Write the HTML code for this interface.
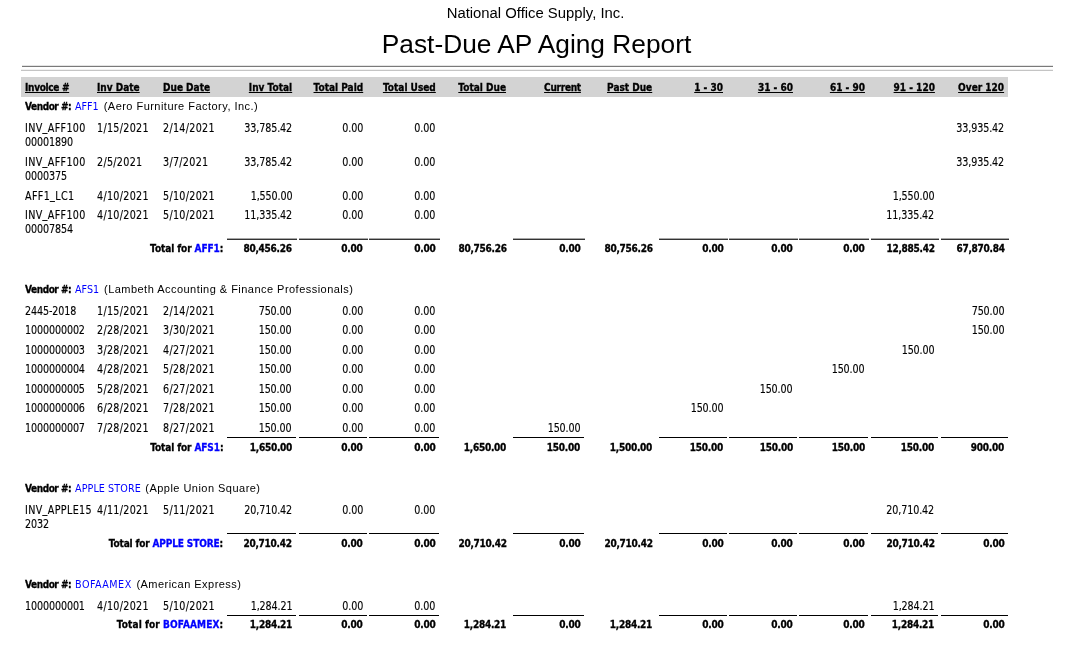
<!DOCTYPE html>
<html><head><meta charset="utf-8"><title>Past-Due AP Aging Report</title>
<style>
html,body{margin:0;padding:0;background:#fff;}
body{width:1071px;height:655px;position:relative;overflow:hidden;color:#000;}
#wrap{position:absolute;left:0;top:0;width:1071px;height:655px;will-change:transform;}
.t{position:absolute;white-space:nowrap;line-height:14px;}
.r{position:absolute;}
.R{text-align:right;}
.d{font-family:'DejaVu Sans',sans-serif;font-size:10.67px;transform:scale(0.9,1.12);-webkit-text-stroke-width:0.13px;}
.d.L{transform-origin:0 2px;}
.d.R{transform-origin:100% 2px;}
.b{font-family:'DejaVu Sans',sans-serif;font-weight:bold;font-size:10px;transform:scaleX(0.9);-webkit-text-stroke-width:0.32px;}
.b.L{transform-origin:0 0;}
.b.R{transform-origin:100% 0;}
.c{font-family:'DejaVu Sans',sans-serif;font-size:10.67px;color:#0000ff;transform:scaleX(0.9);transform-origin:0 0;}
.v{font-family:'Liberation Sans',sans-serif;font-size:11px;letter-spacing:0.47px;}
.bl{color:#0000ff;}
.bn{letter-spacing:-0.28px;}
.vb{letter-spacing:-0.5px;}
.tx{letter-spacing:0.39px;}
.dt{letter-spacing:0.33px;}
.nm{letter-spacing:-0.13px;}
.us{position:relative;top:-1px;}
.co{position:absolute;left:0;width:1071px;text-align:center;font-family:'Liberation Sans',sans-serif;white-space:nowrap;}
</style></head><body><div id="wrap">
<div class="co" style="top:4px;font-size:14.85px;line-height:18px;">National Office Supply, Inc.</div>
<div class="co" style="top:29.3px;font-size:26.3px;line-height:30px;left:1px;">Past-Due AP Aging Report</div>
<div class="r" style="left:22px;top:65px;width:1031px;height:1px;background:#e4e4e4"></div>
<div class="r" style="left:22px;top:66px;width:1031px;height:1px;background:#7a7a7a"></div>
<div class="r" style="left:21px;top:69px;width:1032px;height:1px;background:#f2f2f2"></div>
<div class="r" style="left:21px;top:70px;width:1032px;height:1px;background:#c4c4c4"></div>
<div class="r" style="left:21px;top:77px;width:987px;height:20px;background:#d3d3d3"></div>
<div class="t b L" style="top:81px;left:24.50px;text-decoration:underline;letter-spacing:-0.35px;">Invoice #</div>
<div class="t b L" style="top:81px;left:97.00px;text-decoration:underline;">Inv Date</div>
<div class="t b L" style="top:81px;left:162.60px;text-decoration:underline;">Due Date</div>
<div class="t b R" style="top:81px;right:779.00px;text-decoration:underline;">Inv Total</div>
<div class="t b R" style="top:81px;right:708.00px;text-decoration:underline;">Total Paid</div>
<div class="t b R" style="top:81px;right:635.40px;text-decoration:underline;">Total Used</div>
<div class="t b R" style="top:81px;right:564.70px;text-decoration:underline;">Total Due</div>
<div class="t b R" style="top:81px;right:490.60px;text-decoration:underline;letter-spacing:-0.3px;">Current</div>
<div class="t b R" style="top:81px;right:418.70px;text-decoration:underline;">Past Due</div>
<div class="t b R" style="top:81px;right:347.70px;text-decoration:underline;">1 - 30</div>
<div class="t b R" style="top:81px;right:278.00px;text-decoration:underline;">31 - 60</div>
<div class="t b R" style="top:81px;right:206.40px;text-decoration:underline;">61 - 90</div>
<div class="t b R" style="top:81px;right:136.60px;text-decoration:underline;">91 - 120</div>
<div class="t b R" style="top:81px;right:66.70px;text-decoration:underline;">Over 120</div>
<div class="t b L" style="top:100px;left:24.60px;"><span class="vb">Vendor #:</span></div>
<div class="t c L" style="top:100px;left:75.30px;letter-spacing:0px;">AFF1</div>
<div class="t v L" style="top:99px;left:103.70px;">(Aero Furniture Factory, Inc.)</div>
<div class="t d L" style="top:121px;left:24.50px;"><span class="tx">INV<span class="us">_</span>AFF100</span></div>
<div class="t d L" style="top:121px;left:97.00px;"><span class="dt">1/15/2021</span></div>
<div class="t d L" style="top:121px;left:162.60px;"><span class="dt">2/14/2021</span></div>
<div class="t d R" style="top:121px;right:779.00px;"><span class="nm">33,785.42</span></div>
<div class="t d R" style="top:121px;right:708.00px;"><span class="nm">0.00</span></div>
<div class="t d R" style="top:121px;right:635.40px;"><span class="nm">0.00</span></div>
<div class="t d R" style="top:121px;right:66.70px;"><span class="nm">33,935.42</span></div>
<div class="t d L" style="top:135px;left:24.50px;"><span class="nm">00001890</span></div>
<div class="t d L" style="top:155px;left:24.50px;"><span class="tx">INV<span class="us">_</span>AFF100</span></div>
<div class="t d L" style="top:155px;left:97.00px;"><span class="dt">2/5/2021</span></div>
<div class="t d L" style="top:155px;left:162.60px;"><span class="dt">3/7/2021</span></div>
<div class="t d R" style="top:155px;right:779.00px;"><span class="nm">33,785.42</span></div>
<div class="t d R" style="top:155px;right:708.00px;"><span class="nm">0.00</span></div>
<div class="t d R" style="top:155px;right:635.40px;"><span class="nm">0.00</span></div>
<div class="t d R" style="top:155px;right:66.70px;"><span class="nm">33,935.42</span></div>
<div class="t d L" style="top:169px;left:24.50px;"><span class="nm">0000375</span></div>
<div class="t d L" style="top:189px;left:24.50px;"><span class="tx">AFF1<span class="us">_</span>LC1</span></div>
<div class="t d L" style="top:189px;left:97.00px;"><span class="dt">4/10/2021</span></div>
<div class="t d L" style="top:189px;left:162.60px;"><span class="dt">5/10/2021</span></div>
<div class="t d R" style="top:189px;right:779.00px;"><span class="nm">1,550.00</span></div>
<div class="t d R" style="top:189px;right:708.00px;"><span class="nm">0.00</span></div>
<div class="t d R" style="top:189px;right:635.40px;"><span class="nm">0.00</span></div>
<div class="t d R" style="top:189px;right:136.60px;"><span class="nm">1,550.00</span></div>
<div class="t d L" style="top:208px;left:24.50px;"><span class="tx">INV<span class="us">_</span>AFF100</span></div>
<div class="t d L" style="top:208px;left:97.00px;"><span class="dt">4/10/2021</span></div>
<div class="t d L" style="top:208px;left:162.60px;"><span class="dt">5/10/2021</span></div>
<div class="t d R" style="top:208px;right:779.00px;"><span class="nm">11,335.42</span></div>
<div class="t d R" style="top:208px;right:708.00px;"><span class="nm">0.00</span></div>
<div class="t d R" style="top:208px;right:635.40px;"><span class="nm">0.00</span></div>
<div class="t d R" style="top:208px;right:136.60px;"><span class="nm">11,335.42</span></div>
<div class="t d L" style="top:222px;left:24.50px;"><span class="nm">00007854</span></div>
<div class="t b R" style="top:242px;right:847.70px;"><span style="letter-spacing:-0.11px">Total for <span class="bl">AFF1</span>:</span></div>
<div class="t b R" style="top:242px;right:779.00px;"><span class="bn">80,456.26</span></div>
<div class="t b R" style="top:242px;right:708.00px;"><span class="bn">0.00</span></div>
<div class="t b R" style="top:242px;right:635.40px;"><span class="bn">0.00</span></div>
<div class="t b R" style="top:242px;right:564.70px;"><span class="bn">80,756.26</span></div>
<div class="t b R" style="top:242px;right:490.60px;"><span class="bn">0.00</span></div>
<div class="t b R" style="top:242px;right:418.70px;"><span class="bn">80,756.26</span></div>
<div class="t b R" style="top:242px;right:347.70px;"><span class="bn">0.00</span></div>
<div class="t b R" style="top:242px;right:278.00px;"><span class="bn">0.00</span></div>
<div class="t b R" style="top:242px;right:206.40px;"><span class="bn">0.00</span></div>
<div class="t b R" style="top:242px;right:136.60px;"><span class="bn">12,885.42</span></div>
<div class="t b R" style="top:242px;right:66.70px;"><span class="bn">67,870.84</span></div>
<div class="r" style="left:227px;top:238px;width:70px;height:1px;background:#a8a8a8"></div>
<div class="r" style="left:227px;top:239px;width:70px;height:1px;background:#333"></div>
<div class="r" style="left:299px;top:238px;width:69px;height:1px;background:#a8a8a8"></div>
<div class="r" style="left:299px;top:239px;width:69px;height:1px;background:#333"></div>
<div class="r" style="left:369px;top:238px;width:71px;height:1px;background:#a8a8a8"></div>
<div class="r" style="left:369px;top:239px;width:71px;height:1px;background:#333"></div>
<div class="r" style="left:513px;top:238px;width:72px;height:1px;background:#a8a8a8"></div>
<div class="r" style="left:513px;top:239px;width:72px;height:1px;background:#333"></div>
<div class="r" style="left:659px;top:238px;width:69px;height:1px;background:#a8a8a8"></div>
<div class="r" style="left:659px;top:239px;width:69px;height:1px;background:#333"></div>
<div class="r" style="left:729px;top:238px;width:69px;height:1px;background:#a8a8a8"></div>
<div class="r" style="left:729px;top:239px;width:69px;height:1px;background:#333"></div>
<div class="r" style="left:799px;top:238px;width:70px;height:1px;background:#a8a8a8"></div>
<div class="r" style="left:799px;top:239px;width:70px;height:1px;background:#333"></div>
<div class="r" style="left:871px;top:238px;width:68px;height:1px;background:#a8a8a8"></div>
<div class="r" style="left:871px;top:239px;width:68px;height:1px;background:#333"></div>
<div class="r" style="left:941px;top:238px;width:68px;height:1px;background:#a8a8a8"></div>
<div class="r" style="left:941px;top:239px;width:68px;height:1px;background:#333"></div>
<div class="t b L" style="top:283px;left:24.60px;"><span class="vb">Vendor #:</span></div>
<div class="t c L" style="top:283px;left:75.30px;letter-spacing:0px;">AFS1</div>
<div class="t v L" style="top:282px;left:104.00px;">(Lambeth Accounting &amp; Finance Professionals)</div>
<div class="t d L" style="top:304px;left:24.50px;"><span class="nm">2445-2018</span></div>
<div class="t d L" style="top:304px;left:97.00px;"><span class="dt">1/15/2021</span></div>
<div class="t d L" style="top:304px;left:162.60px;"><span class="dt">2/14/2021</span></div>
<div class="t d R" style="top:304px;right:779.00px;"><span class="nm">750.00</span></div>
<div class="t d R" style="top:304px;right:708.00px;"><span class="nm">0.00</span></div>
<div class="t d R" style="top:304px;right:635.40px;"><span class="nm">0.00</span></div>
<div class="t d R" style="top:304px;right:66.70px;"><span class="nm">750.00</span></div>
<div class="t d L" style="top:323px;left:24.50px;"><span class="nm">1000000002</span></div>
<div class="t d L" style="top:323px;left:97.00px;"><span class="dt">2/28/2021</span></div>
<div class="t d L" style="top:323px;left:162.60px;"><span class="dt">3/30/2021</span></div>
<div class="t d R" style="top:323px;right:779.00px;"><span class="nm">150.00</span></div>
<div class="t d R" style="top:323px;right:708.00px;"><span class="nm">0.00</span></div>
<div class="t d R" style="top:323px;right:635.40px;"><span class="nm">0.00</span></div>
<div class="t d R" style="top:323px;right:66.70px;"><span class="nm">150.00</span></div>
<div class="t d L" style="top:343px;left:24.50px;"><span class="nm">1000000003</span></div>
<div class="t d L" style="top:343px;left:97.00px;"><span class="dt">3/28/2021</span></div>
<div class="t d L" style="top:343px;left:162.60px;"><span class="dt">4/27/2021</span></div>
<div class="t d R" style="top:343px;right:779.00px;"><span class="nm">150.00</span></div>
<div class="t d R" style="top:343px;right:708.00px;"><span class="nm">0.00</span></div>
<div class="t d R" style="top:343px;right:635.40px;"><span class="nm">0.00</span></div>
<div class="t d R" style="top:343px;right:136.60px;"><span class="nm">150.00</span></div>
<div class="t d L" style="top:362px;left:24.50px;"><span class="nm">1000000004</span></div>
<div class="t d L" style="top:362px;left:97.00px;"><span class="dt">4/28/2021</span></div>
<div class="t d L" style="top:362px;left:162.60px;"><span class="dt">5/28/2021</span></div>
<div class="t d R" style="top:362px;right:779.00px;"><span class="nm">150.00</span></div>
<div class="t d R" style="top:362px;right:708.00px;"><span class="nm">0.00</span></div>
<div class="t d R" style="top:362px;right:635.40px;"><span class="nm">0.00</span></div>
<div class="t d R" style="top:362px;right:206.40px;"><span class="nm">150.00</span></div>
<div class="t d L" style="top:382px;left:24.50px;"><span class="nm">1000000005</span></div>
<div class="t d L" style="top:382px;left:97.00px;"><span class="dt">5/28/2021</span></div>
<div class="t d L" style="top:382px;left:162.60px;"><span class="dt">6/27/2021</span></div>
<div class="t d R" style="top:382px;right:779.00px;"><span class="nm">150.00</span></div>
<div class="t d R" style="top:382px;right:708.00px;"><span class="nm">0.00</span></div>
<div class="t d R" style="top:382px;right:635.40px;"><span class="nm">0.00</span></div>
<div class="t d R" style="top:382px;right:278.00px;"><span class="nm">150.00</span></div>
<div class="t d L" style="top:401px;left:24.50px;"><span class="nm">1000000006</span></div>
<div class="t d L" style="top:401px;left:97.00px;"><span class="dt">6/28/2021</span></div>
<div class="t d L" style="top:401px;left:162.60px;"><span class="dt">7/28/2021</span></div>
<div class="t d R" style="top:401px;right:779.00px;"><span class="nm">150.00</span></div>
<div class="t d R" style="top:401px;right:708.00px;"><span class="nm">0.00</span></div>
<div class="t d R" style="top:401px;right:635.40px;"><span class="nm">0.00</span></div>
<div class="t d R" style="top:401px;right:347.70px;"><span class="nm">150.00</span></div>
<div class="t d L" style="top:421px;left:24.50px;"><span class="nm">1000000007</span></div>
<div class="t d L" style="top:421px;left:97.00px;"><span class="dt">7/28/2021</span></div>
<div class="t d L" style="top:421px;left:162.60px;"><span class="dt">8/27/2021</span></div>
<div class="t d R" style="top:421px;right:779.00px;"><span class="nm">150.00</span></div>
<div class="t d R" style="top:421px;right:708.00px;"><span class="nm">0.00</span></div>
<div class="t d R" style="top:421px;right:635.40px;"><span class="nm">0.00</span></div>
<div class="t d R" style="top:421px;right:490.60px;"><span class="nm">150.00</span></div>
<div class="t b R" style="top:441px;right:847.70px;"><span style="letter-spacing:-0.12px">Total for <span class="bl">AFS1</span>:</span></div>
<div class="t b R" style="top:441px;right:779.00px;"><span class="bn">1,650.00</span></div>
<div class="t b R" style="top:441px;right:708.00px;"><span class="bn">0.00</span></div>
<div class="t b R" style="top:441px;right:635.40px;"><span class="bn">0.00</span></div>
<div class="t b R" style="top:441px;right:564.70px;"><span class="bn">1,650.00</span></div>
<div class="t b R" style="top:441px;right:490.60px;"><span class="bn">150.00</span></div>
<div class="t b R" style="top:441px;right:418.70px;"><span class="bn">1,500.00</span></div>
<div class="t b R" style="top:441px;right:347.70px;"><span class="bn">150.00</span></div>
<div class="t b R" style="top:441px;right:278.00px;"><span class="bn">150.00</span></div>
<div class="t b R" style="top:441px;right:206.40px;"><span class="bn">150.00</span></div>
<div class="t b R" style="top:441px;right:136.60px;"><span class="bn">150.00</span></div>
<div class="t b R" style="top:441px;right:66.70px;"><span class="bn">900.00</span></div>
<div class="r" style="left:227px;top:437px;width:69px;height:1px;background:#000"></div>
<div class="r" style="left:299px;top:437px;width:68px;height:1px;background:#000"></div>
<div class="r" style="left:369px;top:437px;width:70px;height:1px;background:#000"></div>
<div class="r" style="left:513px;top:437px;width:71px;height:1px;background:#000"></div>
<div class="r" style="left:659px;top:437px;width:68px;height:1px;background:#000"></div>
<div class="r" style="left:729px;top:437px;width:68px;height:1px;background:#000"></div>
<div class="r" style="left:799px;top:437px;width:69px;height:1px;background:#000"></div>
<div class="r" style="left:871px;top:437px;width:67px;height:1px;background:#000"></div>
<div class="r" style="left:941px;top:437px;width:67px;height:1px;background:#000"></div>
<div class="t b L" style="top:482px;left:24.60px;"><span class="vb">Vendor #:</span></div>
<div class="t c L" style="top:482px;left:75.30px;letter-spacing:0.1px;">APPLE STORE</div>
<div class="t v L" style="top:481px;left:145.30px;">(Apple Union Square)</div>
<div class="t d L" style="top:503px;left:24.50px;"><span class="tx">INV<span class="us">_</span>APPLE15</span></div>
<div class="t d L" style="top:503px;left:97.00px;"><span class="dt">4/11/2021</span></div>
<div class="t d L" style="top:503px;left:162.60px;"><span class="dt">5/11/2021</span></div>
<div class="t d R" style="top:503px;right:779.00px;"><span class="nm">20,710.42</span></div>
<div class="t d R" style="top:503px;right:708.00px;"><span class="nm">0.00</span></div>
<div class="t d R" style="top:503px;right:635.40px;"><span class="nm">0.00</span></div>
<div class="t d R" style="top:503px;right:136.60px;"><span class="nm">20,710.42</span></div>
<div class="t d L" style="top:517px;left:24.50px;"><span class="nm">2032</span></div>
<div class="t b R" style="top:537px;right:847.70px;"><span style="letter-spacing:-0.17px">Total for <span class="bl">APPLE STORE</span>:</span></div>
<div class="t b R" style="top:537px;right:779.00px;"><span class="bn">20,710.42</span></div>
<div class="t b R" style="top:537px;right:708.00px;"><span class="bn">0.00</span></div>
<div class="t b R" style="top:537px;right:635.40px;"><span class="bn">0.00</span></div>
<div class="t b R" style="top:537px;right:564.70px;"><span class="bn">20,710.42</span></div>
<div class="t b R" style="top:537px;right:490.60px;"><span class="bn">0.00</span></div>
<div class="t b R" style="top:537px;right:418.70px;"><span class="bn">20,710.42</span></div>
<div class="t b R" style="top:537px;right:347.70px;"><span class="bn">0.00</span></div>
<div class="t b R" style="top:537px;right:278.00px;"><span class="bn">0.00</span></div>
<div class="t b R" style="top:537px;right:206.40px;"><span class="bn">0.00</span></div>
<div class="t b R" style="top:537px;right:136.60px;"><span class="bn">20,710.42</span></div>
<div class="t b R" style="top:537px;right:66.70px;"><span class="bn">0.00</span></div>
<div class="r" style="left:227px;top:533px;width:69px;height:1px;background:#000"></div>
<div class="r" style="left:299px;top:533px;width:68px;height:1px;background:#000"></div>
<div class="r" style="left:369px;top:533px;width:70px;height:1px;background:#000"></div>
<div class="r" style="left:513px;top:533px;width:71px;height:1px;background:#000"></div>
<div class="r" style="left:659px;top:533px;width:68px;height:1px;background:#000"></div>
<div class="r" style="left:729px;top:533px;width:68px;height:1px;background:#000"></div>
<div class="r" style="left:799px;top:533px;width:69px;height:1px;background:#000"></div>
<div class="r" style="left:871px;top:533px;width:67px;height:1px;background:#000"></div>
<div class="r" style="left:941px;top:533px;width:67px;height:1px;background:#000"></div>
<div class="t b L" style="top:578px;left:24.60px;"><span class="vb">Vendor #:</span></div>
<div class="t c L" style="top:578px;left:75.30px;letter-spacing:0.53px;">BOFAAMEX</div>
<div class="t v L" style="top:577px;left:136.40px;">(American Express)</div>
<div class="t d L" style="top:599px;left:24.50px;"><span class="nm">1000000001</span></div>
<div class="t d L" style="top:599px;left:97.00px;"><span class="dt">4/10/2021</span></div>
<div class="t d L" style="top:599px;left:162.60px;"><span class="dt">5/10/2021</span></div>
<div class="t d R" style="top:599px;right:779.00px;"><span class="nm">1,284.21</span></div>
<div class="t d R" style="top:599px;right:708.00px;"><span class="nm">0.00</span></div>
<div class="t d R" style="top:599px;right:635.40px;"><span class="nm">0.00</span></div>
<div class="t d R" style="top:599px;right:136.60px;"><span class="nm">1,284.21</span></div>
<div class="t b R" style="top:618px;right:847.70px;"><span style="letter-spacing:0.1px">Total for <span class="bl">BOFAAMEX</span>:</span></div>
<div class="t b R" style="top:618px;right:779.00px;"><span class="bn">1,284.21</span></div>
<div class="t b R" style="top:618px;right:708.00px;"><span class="bn">0.00</span></div>
<div class="t b R" style="top:618px;right:635.40px;"><span class="bn">0.00</span></div>
<div class="t b R" style="top:618px;right:564.70px;"><span class="bn">1,284.21</span></div>
<div class="t b R" style="top:618px;right:490.60px;"><span class="bn">0.00</span></div>
<div class="t b R" style="top:618px;right:418.70px;"><span class="bn">1,284.21</span></div>
<div class="t b R" style="top:618px;right:347.70px;"><span class="bn">0.00</span></div>
<div class="t b R" style="top:618px;right:278.00px;"><span class="bn">0.00</span></div>
<div class="t b R" style="top:618px;right:206.40px;"><span class="bn">0.00</span></div>
<div class="t b R" style="top:618px;right:136.60px;"><span class="bn">1,284.21</span></div>
<div class="t b R" style="top:618px;right:66.70px;"><span class="bn">0.00</span></div>
<div class="r" style="left:227px;top:615px;width:69px;height:1px;background:#000"></div>
<div class="r" style="left:299px;top:615px;width:68px;height:1px;background:#000"></div>
<div class="r" style="left:369px;top:615px;width:70px;height:1px;background:#000"></div>
<div class="r" style="left:513px;top:615px;width:71px;height:1px;background:#000"></div>
<div class="r" style="left:659px;top:615px;width:68px;height:1px;background:#000"></div>
<div class="r" style="left:729px;top:615px;width:68px;height:1px;background:#000"></div>
<div class="r" style="left:799px;top:615px;width:69px;height:1px;background:#000"></div>
<div class="r" style="left:871px;top:615px;width:67px;height:1px;background:#000"></div>
<div class="r" style="left:941px;top:615px;width:67px;height:1px;background:#000"></div>
</div></body></html>
